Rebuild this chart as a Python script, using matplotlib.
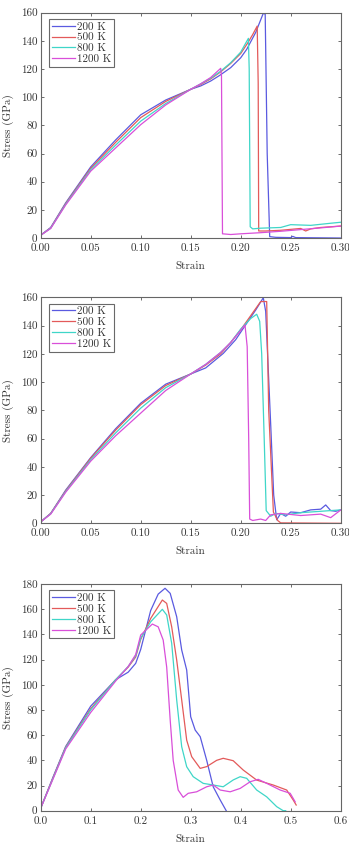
import matplotlib
matplotlib.use("Agg")
import matplotlib.pyplot as plt
from matplotlib.ticker import FormatStrFormatter, MultipleLocator

plt.rcParams['font.family'] = ['cmr10', 'DejaVu Serif']
plt.rcParams['axes.unicode_minus'] = False
plt.rcParams['axes.formatter.use_mathtext'] = True

labels = ["200 K", "500 K", "800 K", "1200 K"]
colors = ["#5a5ae0", "#e35a5a", "#3fd6c8", "#d94fd9"]

# ---------- Panel 1 ----------
p1_x_200 = [0.0, 0.01, 0.025, 0.05, 0.075, 0.10, 0.125, 0.15, 0.16, 0.17, 0.179, 0.19, 0.20, 0.206, 0.215, 0.2226, 0.2245, 0.2265, 0.229, 0.235, 0.25, 0.252, 0.255, 0.27, 0.30]
p1_y_200 = [2.0, 7.5, 25.0, 50.5, 69.7, 87.5, 98.0, 105.6, 108.0, 111.5, 115.5, 121.0, 128.0, 134.0, 146.0, 159.6, 159.0, 60.0, 1.0, 0.5, 0.3, 1.2, 0.3, 0.2, 0.0]
p1_x_500 = [0.0, 0.01, 0.025, 0.05, 0.075, 0.10, 0.125, 0.15, 0.16, 0.17, 0.18, 0.19, 0.20, 0.207, 0.212, 0.2165, 0.2175, 0.218, 0.225, 0.24, 0.26, 0.265, 0.27, 0.28, 0.30]
p1_y_500 = [2.0, 7.2, 24.5, 49.5, 68.0, 85.5, 97.0, 105.6, 109.0, 113.0, 118.0, 124.0, 131.0, 138.5, 144.5, 150.5, 110.0, 5.0, 5.0, 5.5, 6.8, 5.0, 6.5, 7.5, 8.5]
p1_x_800 = [0.0, 0.01, 0.025, 0.05, 0.075, 0.10, 0.125, 0.15, 0.16, 0.17, 0.18, 0.19, 0.20, 0.2077, 0.2085, 0.2095, 0.212, 0.22, 0.24, 0.25, 0.27, 0.29, 0.30]
p1_y_800 = [2.0, 7.0, 24.0, 48.5, 66.0, 83.0, 95.5, 105.6, 109.5, 113.5, 118.5, 124.5, 132.0, 141.8, 120.0, 8.0, 6.5, 7.0, 7.5, 9.5, 9.0, 10.5, 11.2]
p1_x_1200 = [0.0, 0.01, 0.025, 0.05, 0.075, 0.10, 0.125, 0.15, 0.16, 0.17, 0.18, 0.1808, 0.1818, 0.19, 0.20, 0.22, 0.24, 0.26, 0.28, 0.30]
p1_y_1200 = [2.0, 6.8, 23.5, 47.5, 64.0, 80.5, 94.5, 105.6, 109.5, 114.0, 120.5, 115.0, 3.0, 2.5, 3.0, 3.8, 4.8, 6.0, 7.2, 8.5]

# ---------- Panel 2 ----------
p2_x_200 = [0.0, 0.01, 0.025, 0.05, 0.075, 0.10, 0.125, 0.15, 0.165, 0.1826, 0.195, 0.206, 0.215, 0.2226, 0.225, 0.23, 0.233, 0.236, 0.24, 0.245, 0.25, 0.26, 0.27, 0.28, 0.285, 0.29, 0.295, 0.30]
p2_y_200 = [1.0, 7.0, 23.5, 46.5, 67.0, 85.0, 98.5, 105.7, 110.0, 120.3, 130.0, 141.6, 151.0, 159.7, 150.0, 70.0, 20.0, 2.5, 7.0, 5.0, 8.0, 7.5, 9.5, 10.0, 13.0, 9.0, 8.5, 9.5]
p2_x_500 = [0.0, 0.01, 0.025, 0.05, 0.075, 0.10, 0.125, 0.15, 0.165, 0.18, 0.19, 0.20, 0.21, 0.22, 0.226, 0.228, 0.2327, 0.237, 0.24, 0.30]
p2_y_500 = [1.0, 7.0, 23.0, 46.0, 66.0, 84.0, 97.5, 105.7, 112.0, 120.0, 128.0, 137.0, 147.0, 157.0, 157.0, 80.0, 8.0, 2.0, 0.3, 0.0]
p2_x_800 = [0.0, 0.01, 0.025, 0.05, 0.075, 0.10, 0.125, 0.15, 0.165, 0.18, 0.19, 0.20, 0.21, 0.216, 0.219, 0.221, 0.2235, 0.2255, 0.23, 0.235, 0.245, 0.26, 0.28, 0.30]
p2_y_800 = [1.0, 6.8, 22.5, 45.0, 64.0, 81.5, 96.0, 105.7, 112.5, 121.0, 128.0, 137.5, 145.0, 148.0, 143.0, 120.0, 60.0, 9.0, 5.0, 7.0, 6.0, 7.5, 8.5, 9.5]
p2_x_1200 = [0.0, 0.01, 0.025, 0.05, 0.075, 0.10, 0.125, 0.15, 0.165, 0.18, 0.19, 0.2043, 0.2065, 0.208, 0.209, 0.212, 0.22, 0.225, 0.23, 0.24, 0.26, 0.28, 0.29, 0.30]
p2_y_1200 = [1.0, 6.5, 22.0, 44.0, 62.0, 78.0, 94.0, 105.7, 112.5, 121.0, 128.0, 140.4, 125.0, 60.0, 3.0, 2.0, 3.0, 2.0, 6.0, 7.0, 5.5, 6.5, 4.0, 9.4]

# ---------- Panel 3 ----------
p3_x_200 = [0.0, 0.025, 0.05, 0.10, 0.15, 0.175, 0.19, 0.20, 0.22, 0.235, 0.2487, 0.259, 0.272, 0.282, 0.292, 0.30, 0.309, 0.319, 0.332, 0.345, 0.359, 0.371]
p3_y_200 = [2.0, 27.0, 51.0, 83.0, 104.0, 110.0, 117.0, 128.0, 159.0, 172.0, 176.6, 172.6, 154.0, 127.6, 111.7, 74.6, 64.0, 58.8, 40.0, 19.0, 8.5, 0.0]
p3_x_500 = [0.0, 0.025, 0.05, 0.10, 0.15, 0.175, 0.19, 0.20, 0.22, 0.2433, 0.252, 0.262, 0.272, 0.282, 0.292, 0.302, 0.319, 0.332, 0.352, 0.365, 0.385, 0.405, 0.432, 0.465, 0.492, 0.505, 0.511]
p3_y_500 = [2.0, 26.5, 50.5, 81.0, 104.0, 114.0, 122.0, 136.0, 152.7, 167.3, 164.6, 146.0, 119.6, 88.0, 56.0, 42.9, 33.6, 35.0, 40.0, 41.6, 39.7, 32.3, 24.3, 20.4, 16.4, 8.5, 4.5]
p3_x_800 = [0.0, 0.025, 0.05, 0.10, 0.15, 0.175, 0.19, 0.20, 0.22, 0.2433, 0.252, 0.262, 0.272, 0.282, 0.292, 0.305, 0.325, 0.345, 0.365, 0.385, 0.399, 0.412, 0.432, 0.452, 0.472, 0.485, 0.49]
p3_y_800 = [2.0, 26.0, 50.0, 80.0, 104.0, 114.5, 123.0, 137.0, 150.0, 159.9, 155.4, 132.9, 87.9, 50.8, 34.9, 27.0, 21.7, 20.4, 19.0, 24.4, 27.0, 25.7, 16.4, 11.0, 3.2, 0.0, 0.0]
p3_x_1200 = [0.0, 0.025, 0.05, 0.10, 0.15, 0.175, 0.19, 0.20, 0.2233, 0.235, 0.245, 0.252, 0.259, 0.265, 0.275, 0.285, 0.295, 0.312, 0.332, 0.345, 0.359, 0.379, 0.399, 0.419, 0.435, 0.452, 0.479, 0.499, 0.509]
p3_y_1200 = [2.0, 25.5, 49.0, 78.0, 103.0, 114.5, 124.0, 139.5, 148.2, 146.0, 135.5, 114.0, 72.0, 40.0, 16.4, 10.6, 13.8, 15.0, 19.0, 20.4, 16.4, 15.0, 17.7, 23.0, 24.9, 21.7, 16.4, 13.8, 7.0]

panels = [
    dict(xs=[p1_x_200, p1_x_500, p1_x_800, p1_x_1200], ys=[p1_y_200, p1_y_500, p1_y_800, p1_y_1200],
         xlim=(0, 0.30), xstep=0.05, xfmt='%.2f', ylim=(0, 160), rect=[0.1166, 0.7193, 0.8596, 0.2657]),
    dict(xs=[p2_x_200, p2_x_500, p2_x_800, p2_x_1200], ys=[p2_y_200, p2_y_500, p2_y_800, p2_y_1200],
         xlim=(0, 0.30), xstep=0.05, xfmt='%.2f', ylim=(0, 160), rect=[0.1166, 0.3829, 0.8596, 0.2665]),
    dict(xs=[p3_x_200, p3_x_500, p3_x_800, p3_x_1200], ys=[p3_y_200, p3_y_500, p3_y_800, p3_y_1200],
         xlim=(0, 0.6), xstep=0.1, xfmt='%.1f', ylim=(0, 180), rect=[0.1166, 0.0440, 0.8596, 0.2673]),
]

fig = plt.figure(figsize=(3.49, 8.48), dpi=100)
txtc = '#333333'
fs = 8
for p in panels:
    ax = fig.add_axes(p['rect'])
    for x, y, c, lab in zip(p['xs'], p['ys'], colors, labels):
        ax.plot(x, y, color=c, lw=0.9, label=lab)
    ax.set_xlim(*p['xlim'])
    ax.set_ylim(*p['ylim'])
    ax.xaxis.set_major_locator(MultipleLocator(p['xstep']))
    ax.yaxis.set_major_locator(MultipleLocator(20))
    ax.xaxis.set_major_formatter(FormatStrFormatter(p['xfmt']))
    ax.yaxis.set_major_formatter(FormatStrFormatter('%d'))
    ax.tick_params(direction='in', top=True, right=True, length=2.5, width=0.6,
                   labelsize=fs, colors='#555555', labelcolor=txtc)
    ax.tick_params(axis='x', pad=4)
    ax.tick_params(axis='y', pad=2.5)
    for s in ax.spines.values():
        s.set_color('#666666')
        s.set_linewidth(0.8)
    ax.set_xlabel('Strain', fontsize=fs, color=txtc, labelpad=6)
    ax.set_ylabel('Stress (GPa)', fontsize=fs, color=txtc, labelpad=5)
    leg = ax.legend(loc='upper left', bbox_to_anchor=(0.0277, 0.972), borderaxespad=0,
                    fontsize=fs, frameon=True, fancybox=False,
                    handlelength=2.1, handletextpad=0.2, borderpad=0.25, labelspacing=0.1)
    leg.get_frame().set_edgecolor('#444444')
    leg.get_frame().set_linewidth(0.8)
    for t in leg.get_texts():
        t.set_color(txtc)

fig.savefig('out.png', dpi=100)
